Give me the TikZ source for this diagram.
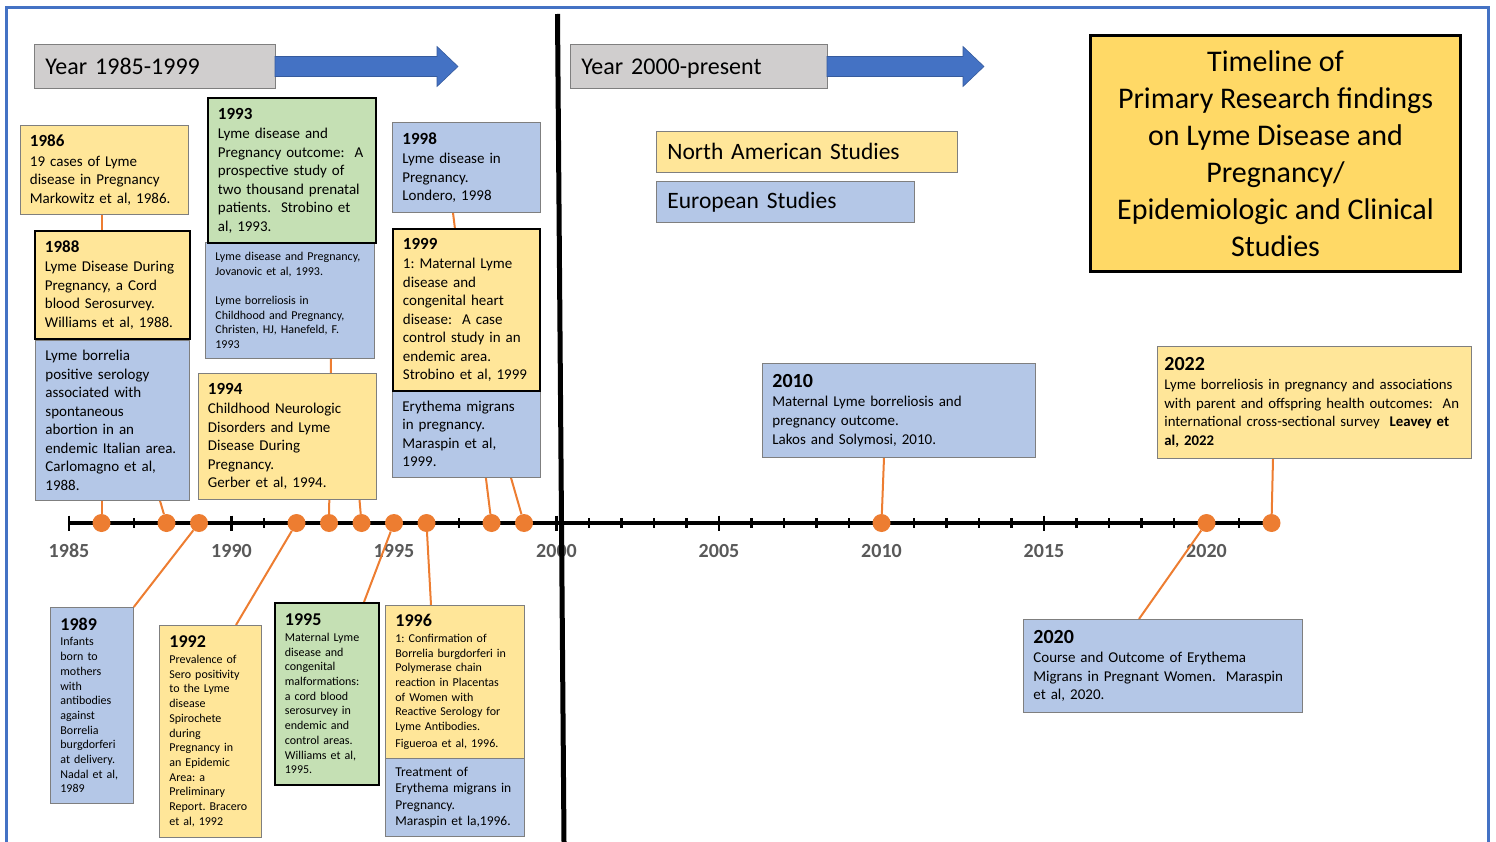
\documentclass[tikz,border=0pt]{standalone}
\usepackage{fontspec}
\setmainfont{Carlito}
\usepackage{tikz}
\usetikzlibrary{positioning}
\tikzset{>=latex}
\usepackage{xcolor}
\definecolor{sandcol}{HTML}{FFE699}
\definecolor{skycol}{HTML}{B4C7E7}
\definecolor{mintcol}{HTML}{C5E0B4}
\definecolor{headcol}{HTML}{D0CECE}
\definecolor{titlecol}{HTML}{FFD966}
\definecolor{arrowcol}{HTML}{4472C4}
\definecolor{dotcol}{HTML}{ED7D31}
\definecolor{labelcol}{HTML}{595959}
\definecolor{edgecol}{HTML}{7F7F7F}
\colorlet{framecol}{arrowcol}
\pgfdeclarelayer{bg}
\pgfdeclarelayer{links}
\pgfsetlayers{bg,links,main}
\frenchspacing
\newcommand\fsz[2]{\fontsize{#1}{#2}\selectfont}
\newcommand\hd[2][17]{{\bfseries\fsz{#1}{#1}#2}\\[1pt]}
\tikzstyle{study}=[draw=edgecol,line width=0.8pt,anchor=north west,align=left,
                   inner xsep=10pt,inner ysep=0pt,font=\fsz{15}{18.5}]
\tikzstyle{smalltext}=[font=\fsz{12}{14.7}]
\tikzstyle{keyed}=[draw=black,line width=1.8pt]
\tikzstyle{stem}=[dotcol,line width=2pt]
\tikzstyle{event}=[circle,fill=dotcol,inner sep=0pt,minimum size=18pt]
\tikzstyle{yearlabel}=[text=labelcol,font=\bfseries\fsz{20}{20}]
\tikzstyle{period}=[draw=edgecol,line width=0.8pt,fill=headcol,anchor=north west,
                    align=left,inner xsep=11pt,minimum height=44pt,text depth=0pt,
                    font=\fsz{24}{28}]
\tikzstyle{keybox}=[draw=edgecol,line width=0.8pt,anchor=north west,align=left,
                    inner xsep=11pt,minimum height=41pt,font=\fsz{23.5}{26}]
\tikzstyle{headline}=[draw=black,line width=3pt,fill=titlecol,anchor=north west,
                      minimum width=370pt,minimum height=236pt,align=center,font=\fsz{30}{37}]
\tikzset{
  boxdim/.style 2 args={text width=#1,minimum height=#2}}

\begin{document}
\begin{tikzpicture}[x=1pt,y=-1pt]
  \def\X{69}
  \def\dx{32.5}
  \def\ty{523}

  \useasboundingbox (0,0) rectangle (1496,842);

  \begin{pgfonlayer}{bg}
  % FRAME
  \draw[framecol,line width=3pt] (6.5,860) -- (6.5,8) -- (1488.5,8) -- (1488.5,860);

  % AXIS
  \draw[line width=4pt] (\X,\ty) -- ({\X+37*\dx},\ty);
  \foreach \yy [evaluate={\xx=\X+(\yy-1985)*\dx; \h=(mod(\yy,5)==0 ? 7.5 : 5);}] in {1985,...,2022}{
    \draw[line width=2.4pt] (\xx,\ty-\h) -- (\xx,\ty+\h);
  }
  \foreach \yy in {1985,1990,...,2020}{
    \node[yearlabel] at ({\X+(\yy-1985)*\dx},551) {\yy};
  }
  \end{pgfonlayer}

  % EVENTS
  \foreach \yy in {1986,1988,1989,1992,1993,1994,1995,1996,1998,1999,2010,2020,2022}{
    \node[event] (d\yy) at ({\X+(\yy-1985)*\dx},\ty) {};
  }

  % HEADERS
  \node[period,text width=219pt] (p1) at (34,44) {Year 1985-1999};
  \node[period,text width=235pt] (p2) at (570,44) {Year 2000-present};
  \foreach \a/\b in {275/437,827/963}{
    \filldraw[fill=arrowcol,draw=arrowcol!80!black,line width=0.6pt]
      (\a,56.5) -- (\b,56.5) -- (\b,46.5) -- (\b+21,66.5) -- (\b,86.5) -- (\b,76.5) -- (\a,76.5) -- cycle;
  }
  \node[keybox,fill=sandcol,text width=279pt] (na) at (656,131) {North American Studies};
  \node[keybox,fill=skycol,text width=236pt] (eu) at (656,181) {European Studies};
  \node[headline] (ttl) at (1089,34)
    {Timeline of\\Primary Research findings\\on Lyme Disease and\\Pregnancy/\\Epidemiologic and Clinical\\Studies};

  % STUDIES ABOVE THE AXIS
  \node[study,fill=sandcol,boxdim={148pt}{89pt}] (n1986) at (19.5,125)
    {\hd{1986}19 cases of Lyme\\disease in Pregnancy\\Markowitz et al, 1986.};
  \node[study,keyed,fill=sandcol,boxdim={135pt}{108pt}] (n1988a) at (34,230)
    {\hd{1988}Lyme Disease During\\Pregnancy, a Cord\\blood Serosurvey.\\Williams et al, 1988.};
  \node[study,fill=skycol,boxdim={134pt}{160pt}] (n1988b) at (35,340)
    {Lyme borrelia\\positive serology\\associated with\\spontaneous\\abortion in an\\endemic Italian area.\\Carlomagno et al,\\1988.};
  \node[study,smalltext,fill=skycol,boxdim={149pt}{116pt}] (n1993b) at (205,242)
    {Lyme disease and Pregnancy,\\Jovanovic et al, 1993.\\[14.7pt]Lyme borreliosis in\\Childhood and Pregnancy,\\Christen, HJ, Hanefeld, F.\\1993};
  \node[study,keyed,fill=mintcol,boxdim={148pt}{145pt}] (n1993a) at (207,97)
    {\hd{1993}Lyme disease and\\Pregnancy outcome:~ A\\prospective study of\\two thousand prenatal\\patients.~ Strobino et\\al, 1993.};
  \node[study,fill=sandcol,boxdim={158pt}{126pt}] (n1994) at (197.5,373)
    {\hd{1994}Childhood Neurologic\\Disorders and Lyme\\Disease During\\Pregnancy.\\Gerber et al, 1994.};
  \node[study,fill=skycol,boxdim={128pt}{90pt}] (n1998) at (392,122)
    {\hd{1998}Lyme disease in\\Pregnancy.\\Londero, 1998};
  \node[study,fill=skycol,boxdim={128pt}{87pt}] (n1999b) at (392,390)
    {Erythema migrans\\in pregnancy.\\Maraspin et al,\\1999.};
  \node[study,keyed,fill=sandcol,boxdim={127pt}{162pt}] (n1999a) at (392,228)
    {\hd{1999}1: Maternal Lyme\\disease and\\congenital heart\\disease:~ A case\\control study in an\\endemic area.\\Strobino et al, 1999};

  % STUDIES BELOW THE AXIS
  \node[study,smalltext,fill=skycol,boxdim={63pt}{196pt}] (n1989) at (50,607)
    {\hd[18]{1989}Infants\\born to\\mothers\\with\\antibodies\\against\\Borrelia\\burgdorferi\\at delivery.\\Nadal et al,\\1989};
  \node[study,smalltext,fill=sandcol,boxdim={82pt}{212pt}] (n1992) at (159,625)
    {\hd[18]{1992}Prevalence of\\Sero positivity\\to the Lyme\\disease\\Spirochete\\during\\Pregnancy in\\an Epidemic\\Area: a\\Preliminary\\Report. Bracero\\et al, 1992};
  \node[study,smalltext,keyed,fill=mintcol,boxdim={84pt}{182pt}] (n1995) at (274,602)
    {\hd[18]{1995}Maternal Lyme\\disease and\\congenital\\malformations:\\a cord blood\\serosurvey in\\endemic and\\control areas.\\Williams et al,\\1995.};
  \node[study,fill=skycol,font=\fsz{13.5}{16.5},boxdim={119pt}{78pt}] (n1996b) at (385,758)
    {Treatment of\\Erythema migrans in\\Pregnancy.\\Maraspin et la,1996.};
  \node[study,smalltext,fill=sandcol,boxdim={119pt}{153pt}] (n1996a) at (385,605)
    {\hd[18]{1996}1: Confirmation of\\Borrelia burgdorferi in\\Polymerase chain\\reaction in Placentas\\of Women with\\Reactive Serology for\\Lyme Antibodies.\\[2pt]Figueroa et al, 1996.};

  % STUDIES FROM 2000 ON
  \node[study,fill=skycol,boxdim={253pt}{94pt}] (n2010) at (762,363)
    {\hd[20]{2010}Maternal Lyme borreliosis and\\pregnancy outcome.\\Lakos and Solymosi, 2010.};
  \node[study,fill=sandcol,inner xsep=7pt,font=\fsz{14.8}{18.5},boxdim={300pt}{112pt}] (n2022) at (1157,346)
    {\hd[20]{2022}Lyme borreliosis in pregnancy and associations\\with parent and offspring health outcomes:~ An\\international cross-sectional survey~ \textbf{Leavey et}\\\textbf{al, 2022}};
  \node[study,fill=skycol,boxdim={259pt}{93pt}] (n2020) at (1023,619)
    {\hd[20]{2020}Course and Outcome of Erythema\\Migrans in Pregnant Women.~ Maraspin\\et al, 2020.};

  % STEMS
  \begin{pgfonlayer}{links}
  \draw[stem] (n1986.south -| d1986) -- (d1986);
  \draw[stem] ([xshift=125pt]n1988b.south west) -- (d1988);
  \draw[stem] ([xshift=126pt]n1993b.south west) -- (d1993);
  \draw[stem] ([xshift=162pt]n1994.south west) -- (d1994);
  \draw[stem] ([xshift=61pt]n1998.south west) -- (d1998);
  \draw[stem] ([xshift=119pt]n1999b.south west) -- (d1999);
  \draw[stem] (n1989.north east) -- (d1989);
  \draw[stem] ([xshift=77pt]n1992.north west) -- (d1992);
  \draw[stem] ([xshift=90pt]n1995.north west) -- (d1995);
  \draw[stem] ([xshift=46pt]n1996a.north west) -- (d1996);
  \draw[stem] ([xshift=122pt]n2010.south west) -- (d2010);
  \draw[stem] ([xshift=116pt]n2020.north west) -- (d2020);
  \draw[stem] ([xshift=116pt]n2022.south west) -- (d2022);
  \end{pgfonlayer}

  % DIVIDER
  \draw[line width=5pt] (557.5,14) -- (564,842);

\end{tikzpicture}
\end{document}
